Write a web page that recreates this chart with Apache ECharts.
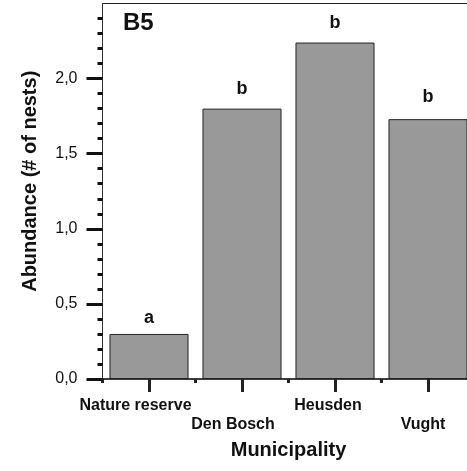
<!DOCTYPE html>
<html>
<head>
<meta charset="utf-8">
<script src="https://cdn.jsdelivr.net/npm/echarts@6/dist/echarts.min.js"></script>
<style>
html,body{margin:0;padding:0;background:#fff;}
#chart{width:467px;height:471px;}
</style>
</head>
<body>
<div id="chart"></div>
<script>
const categories = ['Nature reserve', 'Den Bosch', 'Heusden', 'Vught'];
const abundance = [0.3, 1.8, 2.24, 1.73];
const groupLetters = ['a', 'b', 'b', 'b'];
const yTickValues = [0, 0.5, 1.0, 1.5, 2.0];

const FONT = '"Liberation Sans", Arial, Helvetica, sans-serif';
const letterDistances = [6.5, 10.5, 10.5, 13.5];
const labelShift = [27, 18, 14, 10];

const rich = {};
categories.forEach((c, i) => {
  rich['r' + i] = {
    fontFamily: FONT, fontSize: 16, fontWeight: 'bold', color: '#111',
    padding: [i % 2 ? 19 : 0, labelShift[i], 0, 0]
  };
});

const gridBox = { left: 102.5, width: 372, top: 3.5, height: 375.5, outerBoundsMode: 'none', containLabel: false };

const chart = echarts.init(document.getElementById('chart'));
chart.setOption({
  animation: false,
  backgroundColor: '#fff',
  title: {
    text: 'B5', left: 123, top: 11, padding: 0,
    textStyle: { fontFamily: FONT, fontSize: 24, fontWeight: 'bold', color: '#111' }
  },
  grid: [
    Object.assign({ show: true, borderColor: '#222', borderWidth: 1, backgroundColor: 'transparent' }, gridBox),
    Object.assign({ show: false }, gridBox)
  ],
  xAxis: [{
    gridIndex: 0,
    type: 'category',
    data: categories,
    position: 'bottom',
    name: 'Municipality',
    nameLocation: 'middle',
    nameGap: 61,
    nameTextStyle: { fontFamily: FONT, fontSize: 20, fontWeight: 'bold', color: '#111' },
    axisLine: { show: true, lineStyle: { color: '#222', width: 1.5 } },
    axisTick: { show: true, alignWithLabel: true, length: 13, lineStyle: { color: '#222', width: 3 } },
    axisLabel: {
      interval: 0, margin: 19,
      formatter: (v, i) => '{r' + i + '|' + v + '}',
      rich: rich
    }
  }, {
    gridIndex: 1,
    type: 'category',
    data: categories,
    position: 'bottom',
    boundaryGap: true,
    axisLine: { show: false },
    axisLabel: { show: false },
    axisTick: {
      show: true, alignWithLabel: false, interval: 0, length: 4,
      lineStyle: { color: '#222', width: 3 }
    }
  }],
  yAxis: [{
    gridIndex: 0,
    type: 'value',
    min: 0, max: 2.5, interval: 0.5,
    name: 'Abundance (# of nests)',
    nameLocation: 'middle',
    nameGap: 62,
    nameRotate: 90,
    nameTextStyle: { fontFamily: FONT, fontSize: 20, fontWeight: 'bold', color: '#111', padding: [0, 0, 0, 20] },
    splitLine: { show: false },
    axisLine: { show: true, lineStyle: { color: '#333', width: 1 } },
    axisTick: { show: true, length: 16, lineStyle: { color: '#111', width: 3 }, customValues: yTickValues },
    minorTick: { show: true, splitNumber: 5, length: 5, lineStyle: { color: '#111', width: 3 } },
    axisLabel: {
      margin: 25, customValues: yTickValues,
      fontFamily: FONT, fontSize: 16, color: '#111',
      formatter: v => v.toFixed(1).replace('.', ',')
    }
  }, {
    gridIndex: 1,
    type: 'value', min: 0, max: 2.5, show: false
  }],
  series: [{
    type: 'bar',
    xAxisIndex: 0,
    yAxisIndex: 0,
    barCategoryGap: '15%',
    data: abundance.map((v, i) => ({
      value: v,
      label: { distance: letterDistances[i] }
    })),
    itemStyle: { color: '#999999', borderColor: '#222', borderWidth: 1 },
    label: {
      show: true, position: 'top',
      formatter: p => groupLetters[p.dataIndex],
      fontFamily: FONT, fontSize: 18, fontWeight: 'bold', color: '#111'
    }
  }]
});
</script>
</body>
</html>
